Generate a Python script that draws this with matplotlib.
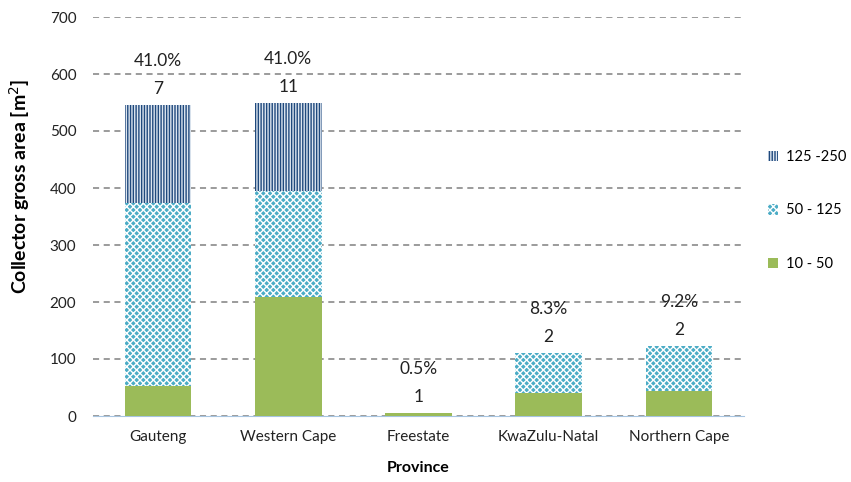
import matplotlib
matplotlib.use("Agg")
import matplotlib.pyplot as plt
import numpy as np

provinces = ["Gauteng", "Western Cape", "Freestate", "KwaZulu-Natal", "Northern Cape"]
s_10_50 = [53, 209, 6, 40, 44]
s_50_125 = [321, 186, 0, 71, 78]
s_125_250 = [172, 154, 0, 0, 0]
counts = ["7", "11", "1", "2", "2"]
shares = ["41.0%", "41.0%", "0.5%", "8.3%", "9.2%"]
series_names = ["10 - 50", "50 - 125", "125 -250"]

plt.rcParams['font.family'] = ['Lato', 'DejaVu Sans']
plt.rcParams['hatch.linewidth'] = 1.0

fig = plt.figure(figsize=(8.51, 4.82), dpi=100)
ax = fig.add_axes([93/851, 1-416/482, (744-93)/851, (416-17)/482])

x = np.arange(len(provinces))
w = 0.51
b1 = ax.bar(x, s_10_50, w, color="#9BBB59", linewidth=0, label=series_names[0], zorder=3)
bottom2 = np.array(s_10_50)
b2 = ax.bar(x, s_50_125, w, bottom=bottom2, facecolor="#4BACC6", edgecolor="white",
            hatch="xxxxx", linewidth=0, label=series_names[1], zorder=3)
bottom3 = bottom2 + np.array(s_50_125)
b3 = ax.bar(x, s_125_250, w, bottom=bottom3, facecolor="#1F497D", edgecolor="#DDE6F0",
            hatch="||||||", linewidth=0, label=series_names[2], zorder=3)

tops = bottom3 + np.array(s_125_250)
for xi, t, c, s in zip(x, tops, counts, shares):
    ax.annotate(c, (xi, t), xytext=(0, 8), textcoords="offset pixels",
                ha="center", va="bottom", fontsize=12.5, color="#222222")
    ax.annotate(s, (xi, t), xytext=(0, 36), textcoords="offset pixels",
                ha="center", va="bottom", fontsize=12.5, color="#222222")

ax.set_ylim(0, 700)
ax.set_xlim(-0.5, len(provinces) - 0.5)
ax.set_yticks(range(0, 701, 100))
ax.set_xticks(x)
ax.set_xticklabels(provinces)
ax.tick_params(length=0, labelsize=11, colors="#222222")
ax.tick_params(axis="y", pad=12)
ax.tick_params(axis="x", pad=10)
for sp in ["top", "right", "left"]:
    ax.spines[sp].set_visible(False)
ax.spines["bottom"].set_color("#A6C4E0")
ax.yaxis.grid(True, linestyle=(0, (4, 3)), color="#808080", linewidth=1.1, zorder=0)
ax.set_axisbelow(True)

ax.set_ylabel("Collector gross area [m$^2$]", fontsize=14, fontweight="bold")
ax.yaxis.set_label_coords(-0.094, 0.575)
ax.set_xlabel("Province", fontsize=11.5, fontweight="bold", labelpad=12)

handles = [b3, b2, b1]
leg = fig.legend(handles, [series_names[2], series_names[1], series_names[0]],
                 loc="upper left", bbox_to_anchor=(755/851, 1-137/482), frameon=False,
                 fontsize=10.5, labelspacing=2.7, handlelength=0.7, handleheight=0.7,
                 handletextpad=0.5)

fig.savefig("out.png", dpi=100, facecolor="white")
